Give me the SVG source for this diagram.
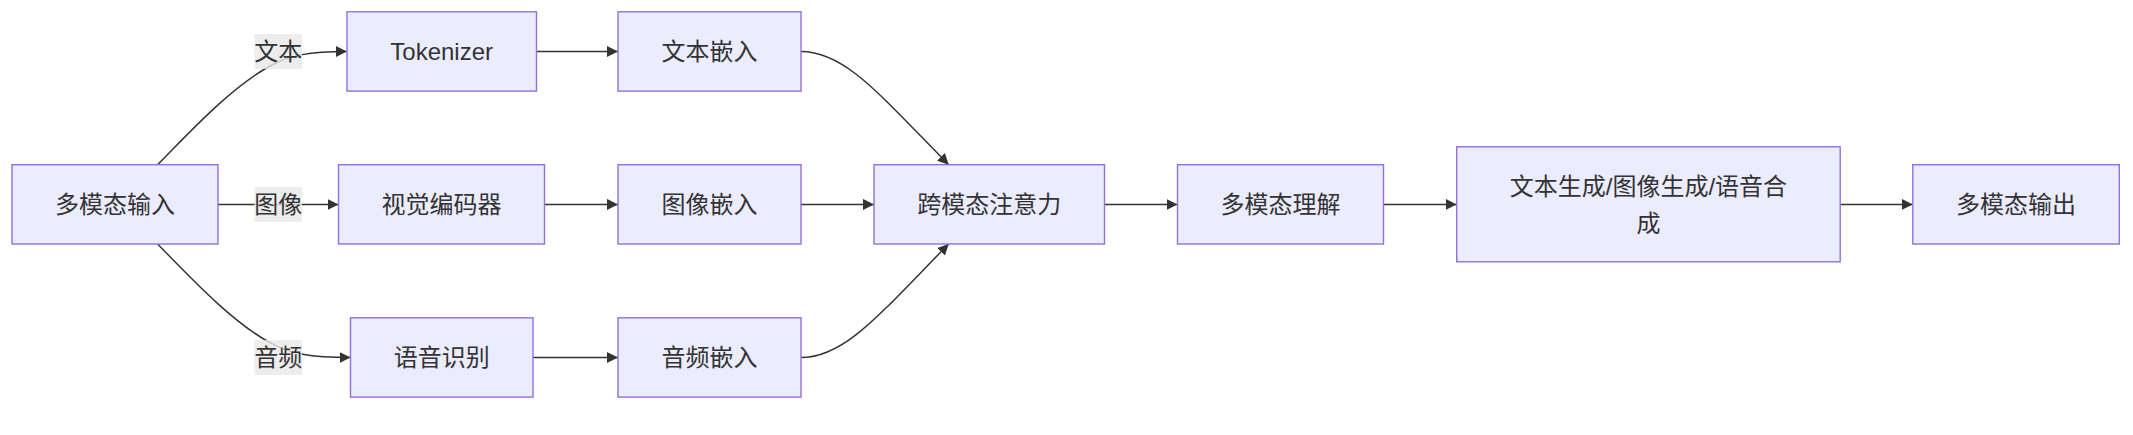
<svg xmlns="http://www.w3.org/2000/svg" width="2133" height="435" viewBox="0 0 2133 435">
<style>
.node rect{fill:#ECECFF;stroke:#9370DB;stroke-width:1.4}
.node text,.lbl text{font-family:"Liberation Sans","Noto Sans CJK SC",sans-serif;font-size:24px;fill:#333;text-anchor:middle;dominant-baseline:central}
.lbl rect{fill:#e8e8e8;fill-opacity:0.8}
.edges path{fill:none;stroke:#333;stroke-width:1.5}
</style>
<defs>
<marker id="arrow" viewBox="0 0 10 10" refX="10" refY="5" markerUnits="userSpaceOnUse" markerWidth="11" markerHeight="11" orient="auto">
<path d="M0,0 L10,5 L0,10 z" fill="#333"/>
</marker>
</defs>
<rect width="2133" height="435" fill="#ffffff"/>
<g class="edges">
<path marker-end="url(#arrow)" d="M157.5,164.7 C190,132 230,88 270,66 C290,55 310,51.5 346.8,51.5"/>
<path marker-end="url(#arrow)" d="M218,204.4 L338.5,204.4"/>
<path marker-end="url(#arrow)" d="M157.5,244 C190,276.7 230,320.7 270,342.7 C290,353.7 310,357.5 350.5,357.5"/>
<path marker-end="url(#arrow)" d="M536.5,51.5 L618,51.5"/>
<path marker-end="url(#arrow)" d="M544.5,204.4 L618,204.4"/>
<path marker-end="url(#arrow)" d="M533,357.5 L618,357.5"/>
<path marker-end="url(#arrow)" d="M801,51.5 C845,51.5 880,95 948.7,164.7"/>
<path marker-end="url(#arrow)" d="M801,204.4 L874,204.4"/>
<path marker-end="url(#arrow)" d="M801,357.5 C845,357.5 880,313.7 948.7,244"/>
<path marker-end="url(#arrow)" d="M1104.5,204.4 L1177.5,204.4"/>
<path marker-end="url(#arrow)" d="M1383.5,204.4 L1456.7,204.4"/>
<path marker-end="url(#arrow)" d="M1840.2,204.4 L1912.8,204.4"/>
</g>
<g class="lbl" id="label-text"><rect x="254.5" y="34" width="47.5" height="35"/><text x="278.3" y="51.5">文本</text></g>
<g class="lbl" id="label-image"><rect x="254.5" y="187" width="47.5" height="35"/><text x="278.3" y="204.5">图像</text></g>
<g class="lbl" id="label-audio"><rect x="254.5" y="340" width="47.5" height="35"/><text x="278.3" y="357.5">音频</text></g>
<g class="node" id="n-input"><rect x="12" y="164.7" width="206" height="79.3"/><text x="115" y="204.4">多模态输入</text></g>
<g class="node" id="n-tokenizer"><rect x="347" y="11.8" width="189.5" height="79.3"/><text x="441.7" y="51.5">Tokenizer</text></g>
<g class="node" id="n-vision"><rect x="338.5" y="164.7" width="206" height="79.3"/><text x="441.5" y="204.4">视觉编码器</text></g>
<g class="node" id="n-asr"><rect x="350.5" y="317.8" width="182.5" height="79.3"/><text x="441.7" y="357.5">语音识别</text></g>
<g class="node" id="n-text-emb"><rect x="618" y="11.8" width="183" height="79.3"/><text x="709.5" y="51.5">文本嵌入</text></g>
<g class="node" id="n-image-emb"><rect x="618" y="164.7" width="183" height="79.3"/><text x="709.5" y="204.4">图像嵌入</text></g>
<g class="node" id="n-audio-emb"><rect x="618" y="317.8" width="183" height="79.3"/><text x="709.5" y="357.5">音频嵌入</text></g>
<g class="node" id="n-cross"><rect x="874" y="164.7" width="230.5" height="79.3"/><text x="989.2" y="204.4">跨模态注意力</text></g>
<g class="node" id="n-understand"><rect x="1177.5" y="164.7" width="206" height="79.3"/><text x="1280.5" y="204.4">多模态理解</text></g>
<g class="node" id="n-generate"><rect x="1456.7" y="146.8" width="383.5" height="115"/><text x="1648.4" y="186.7">文本生成/图像生成/语音合</text><text x="1648.4" y="223.3">成</text></g>
<g class="node" id="n-output"><rect x="1912.8" y="164.7" width="206.5" height="79.3"/><text x="2016" y="204.4">多模态输出</text></g>
</svg>
